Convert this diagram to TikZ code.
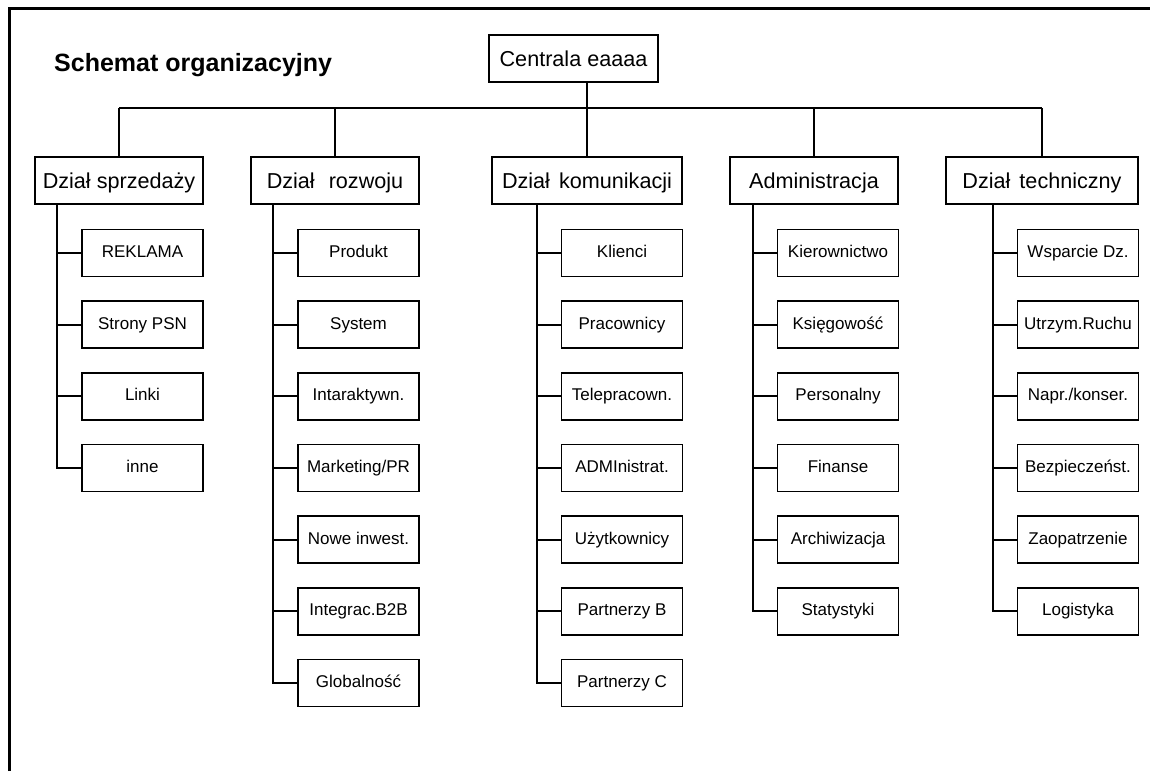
\documentclass[tikz,border=0pt]{standalone}
\usepackage{fontspec}
\setmainfont{Liberation Sans}
\begin{document}
\begin{tikzpicture}[x=1pt,y=-1pt,
  box/.style={draw, line width=1.8pt, inner sep=0pt, minimum height=47pt,
              text height=15.5pt, text depth=0pt,
              font=\fontsize{21.6}{24}\selectfont},
  sub/.style={draw, line width=1.8pt, inner sep=0pt, minimum width=121pt,
              minimum height=47pt, text height=12.2pt, text depth=3pt,
              font=\fontsize{17}{20}\selectfont},
  wire/.style={line width=1.8pt}]
\useasboundingbox (0,0) rectangle (1150,771);

% page frame (top and left rules)
\draw[line width=3pt] (9,771) -- (9,8) -- (1150,8);

% title
\node[anchor=base west, inner sep=0pt, font=\bfseries\fontsize{25}{28}\selectfont]
  (title) at (54,71) {Schemat organizacyjny};

% head office
\node[box, minimum width=169pt] (cen) at (573.5,58.5) {Centrala eaaaa};

% departments
\node[box, minimum width=168pt] (spr) at (119,180.5)   {Dział sprzedaży};
\node[box, minimum width=168pt] (roz) at (335,180.5)   {Dział\hspace{0.65em}rozwoju};
\node[box, minimum width=190pt] (kom) at (587,180.5)   {Dział\hspace{0.42em}komunikacji};
\node[box, minimum width=168pt] (adm) at (814,180.5)   {Administracja};
\node[box, minimum width=192pt] (tec) at (1042,180.5)  {Dział\hspace{0.42em}techniczny};

% bus between head office and departments
\coordinate (bus) at (0,108);
\draw[wire] (spr.north |- bus) -- (tec.north |- bus);
\draw[wire] (kom.north) -- (kom.north |- cen.south);
\foreach \d in {spr,roz,adm,tec}
  \draw[wire] (\d.north) -- (\d.north |- bus);

% sub-units: sales
\foreach \i/\t in {1/REKLAMA,2/Strony PSN,3/Linki,4/inne}
  \node[sub] (s\i) at (142.5,{253+71.67*(\i-1)}) {\t};
% development
\foreach \i/\t in {1/Produkt,2/System,3/Intaraktywn.,4/{Marketing/PR},5/Nowe inwest.,6/Integrac.B2B,7/Globalność}
  \node[sub] (r\i) at (358.5,{253+71.67*(\i-1)}) {\t};
% communication
\foreach \i/\t in {1/Klienci,2/Pracownicy,3/Telepracown.,4/ADMInistrat.,5/Użytkownicy,6/Partnerzy B,7/Partnerzy C}
  \node[sub] (k\i) at (622,{253+71.67*(\i-1)}) {\t};
% administration
\foreach \i/\t in {1/Kierownictwo,2/Księgowość,3/Personalny,4/Finanse,5/Archiwizacja,6/Statystyki}
  \node[sub] (a\i) at (838,{253+71.67*(\i-1)}) {\t};
% technical
\foreach \i/\t in {1/Wsparcie Dz.,2/Utrzym.Ruchu,3/{Napr./konser.},4/Bezpieczeńst.,5/Zaopatrzenie,6/Logistyka}
  \node[sub] (t\i) at (1078,{253+71.67*(\i-1)}) {\t};

% spines and branches
\foreach \p/\c/\n in {spr/s/4,roz/r/7,kom/k/7,adm/a/6,tec/t/6}{
  \draw[wire] ([xshift=-24pt]\c1.west |- \p.south) -- ([xshift=-24pt]\c\n.west) -- (\c\n.west);
  \foreach \i in {1,...,\n}
    \draw[wire] ([xshift=-24pt]\c\i.west) -- (\c\i.west);
}
\end{tikzpicture}
\end{document}
